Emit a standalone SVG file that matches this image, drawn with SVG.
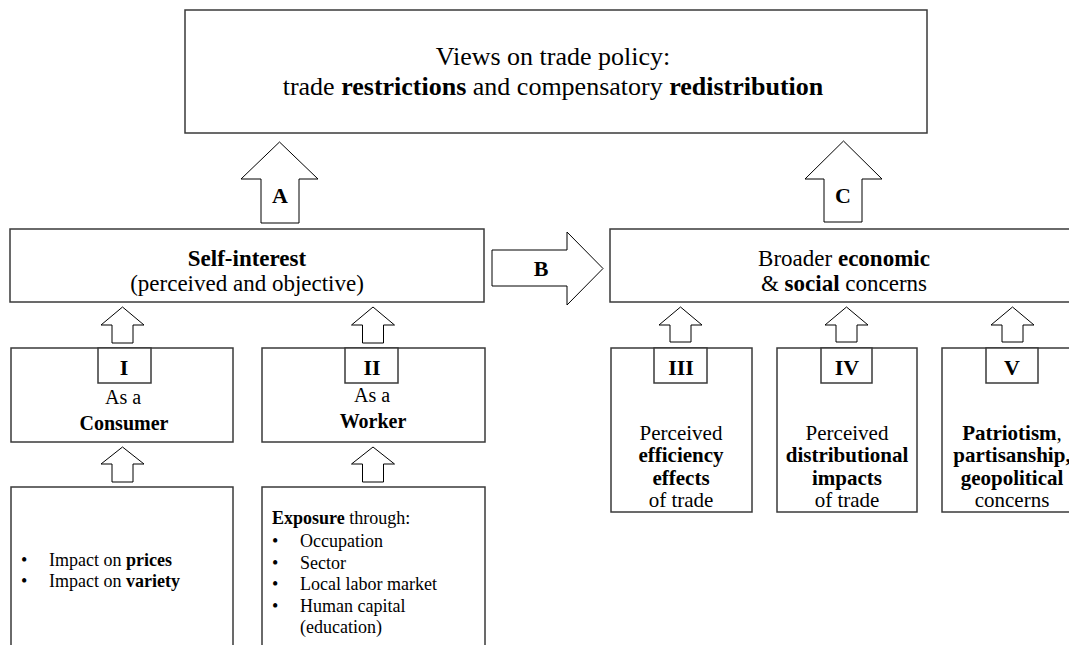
<svg xmlns="http://www.w3.org/2000/svg" width="1069" height="645" viewBox="0 0 1069 645">
<style>
  .box{fill:#fff;stroke:#3a3a3a;stroke-width:1.5}
  .arr{fill:#fff;stroke:#000;stroke-width:1}
  text{fill:#000}
  .t26{font-size:26px}
  .t23{font-size:23px}
  .t21{font-size:21px}
  .t20{font-size:20px}
  .t18{font-size:18px}
  .lbl{font-size:22px;font-weight:bold}
  .c{text-anchor:middle}
  .b{font-weight:bold}
</style>
<rect width="1069" height="645" fill="#fff"/>
<g font-family="'Liberation Serif', 'DejaVu Serif', serif">
<g id="connectors">
  <polygon id="arrow-A" class="arr" points="261,223 261,179 241,179 279.5,142 318,179 299,179 299,223"/>
  <text class="lbl c" x="280" y="203">A</text>
  <polygon id="arrow-C" class="arr" points="824,222 824,179 805,179 843.5,141 882,179 862,179 862,222"/>
  <text class="lbl c" x="843" y="203">C</text>
  <polygon id="arrow-B" class="arr" points="492,250 567,250 567,232 603,268.5 567,305 567,286 492,286"/>
  <text class="lbl c" x="541" y="276">B</text>
  <polygon id="arrow-I" class="arr" points="112,343 112,325 101,325 122.5,307 144,325 133,325 133,343"/>
  <polygon id="arrow-II" class="arr" points="362.5,343 362.5,325 351.5,325 373,307 394.5,325 383.5,325 383.5,343"/>
  <polygon id="arrow-I-low" class="arr" points="112,482 112,464 101,464 122.5,447 144,464 133,464 133,482"/>
  <polygon id="arrow-II-low" class="arr" points="362.5,482 362.5,464 351.5,464 373,447 394.5,464 383.5,464 383.5,482"/>
  <polygon id="arrow-III" class="arr" points="670,342 670,325 659,325 680.5,307 702,325 691,325 691,342"/>
  <polygon id="arrow-IV" class="arr" points="836,342 836,325 825,325 846.5,307 868,325 857,325 857,342"/>
  <polygon id="arrow-V" class="arr" points="1002,342 1002,325 991,325 1012.5,307 1034,325 1023,325 1023,342"/>
</g>

<g id="views">
  <rect class="box" x="185" y="10" width="742" height="123"/>
  <text class="t26 c" x="553" y="65">Views on trade policy:</text>
  <text class="t26 c" x="553" y="95">trade <tspan class="b">restrictions</tspan> and compensatory <tspan class="b">redistribution</tspan></text>
</g>

<g id="self-interest">
  <rect class="box" x="10" y="229" width="474" height="73"/>
  <text class="t23 c b" x="247" y="266">Self-interest</text>
  <text class="t23 c" x="247" y="291">(perceived and objective)</text>
</g>

<g id="broader">
  <rect class="box" x="610" y="229" width="470" height="73"/>
  <text class="t23 c" x="844" y="266">Broader <tspan class="b">economic</tspan></text>
  <text class="t23 c" x="844" y="291">&amp; <tspan class="b">social</tspan> concerns</text>
</g>

<g id="consumer">
  <rect class="box" x="11" y="348" width="222" height="94"/>
  <rect class="box" x="98" y="348" width="53" height="35"/>
  <text class="lbl c" x="124" y="375">I</text>
  <text class="t20 c" x="123" y="404">As a</text>
  <text class="t20 c b" x="124" y="430">Consumer</text>
</g>

<g id="worker">
  <rect class="box" x="262" y="348" width="223" height="94"/>
  <rect class="box" x="345" y="348" width="53" height="35"/>
  <text class="lbl c" x="372" y="375">II</text>
  <text class="t20 c" x="372" y="402">As a</text>
  <text class="t20 c b" x="373" y="428">Worker</text>
</g>

<g id="consumer-detail">
  <rect class="box" x="11" y="487" width="222" height="165"/>
  <text class="t18" x="21" y="566">•</text>
  <text class="t18" x="49" y="566">Impact on <tspan class="b">prices</tspan></text>
  <text class="t18" x="21" y="587">•</text>
  <text class="t18" x="49" y="587">Impact on <tspan class="b">variety</tspan></text>
</g>

<g id="worker-detail">
  <rect class="box" x="262" y="487" width="223" height="165"/>
  <text class="t18" x="272" y="524"><tspan class="b">Exposure</tspan> through:</text>
  <text class="t18" x="272" y="547">•</text>
  <text class="t18" x="300" y="547">Occupation</text>
  <text class="t18" x="272" y="569">•</text>
  <text class="t18" x="300" y="569">Sector</text>
  <text class="t18" x="272" y="590">•</text>
  <text class="t18" x="300" y="590">Local labor market</text>
  <text class="t18" x="272" y="612">•</text>
  <text class="t18" x="300" y="612">Human capital</text>
  <text class="t18" x="300" y="633">(education)</text>
</g>

<g id="efficiency">
  <rect class="box" x="611" y="348" width="141" height="164"/>
  <rect class="box" x="654" y="348" width="53" height="35"/>
  <text class="lbl c" x="681" y="375">III</text>
  <text class="t21 c" x="681" y="440">Perceived</text>
  <text class="t21 c b" x="681" y="462">efficiency</text>
  <text class="t21 c b" x="681" y="485">effects</text>
  <text class="t21 c" x="681" y="507">of trade</text>
</g>

<g id="distributional">
  <rect class="box" x="777" y="348" width="140" height="164"/>
  <rect class="box" x="821" y="348" width="51" height="35"/>
  <text class="lbl c" x="847" y="375">IV</text>
  <text class="t21 c" x="847" y="440">Perceived</text>
  <text class="t21 c b" x="847" y="462">distributional</text>
  <text class="t21 c b" x="847" y="485">impacts</text>
  <text class="t21 c" x="847" y="507">of trade</text>
</g>

<g id="patriotism">
  <rect class="box" x="942" y="348" width="141" height="164"/>
  <rect class="box" x="986" y="348" width="52" height="35"/>
  <text class="lbl c" x="1012" y="375">V</text>
  <text class="t21 c" x="1012" y="440"><tspan class="b">Patriotism</tspan>,</text>
  <text class="t21 c b" x="1012" y="462">partisanship,</text>
  <text class="t21 c b" x="1012" y="485">geopolitical</text>
  <text class="t21 c" x="1012" y="507">concerns</text>
</g>
</g>
</svg>
